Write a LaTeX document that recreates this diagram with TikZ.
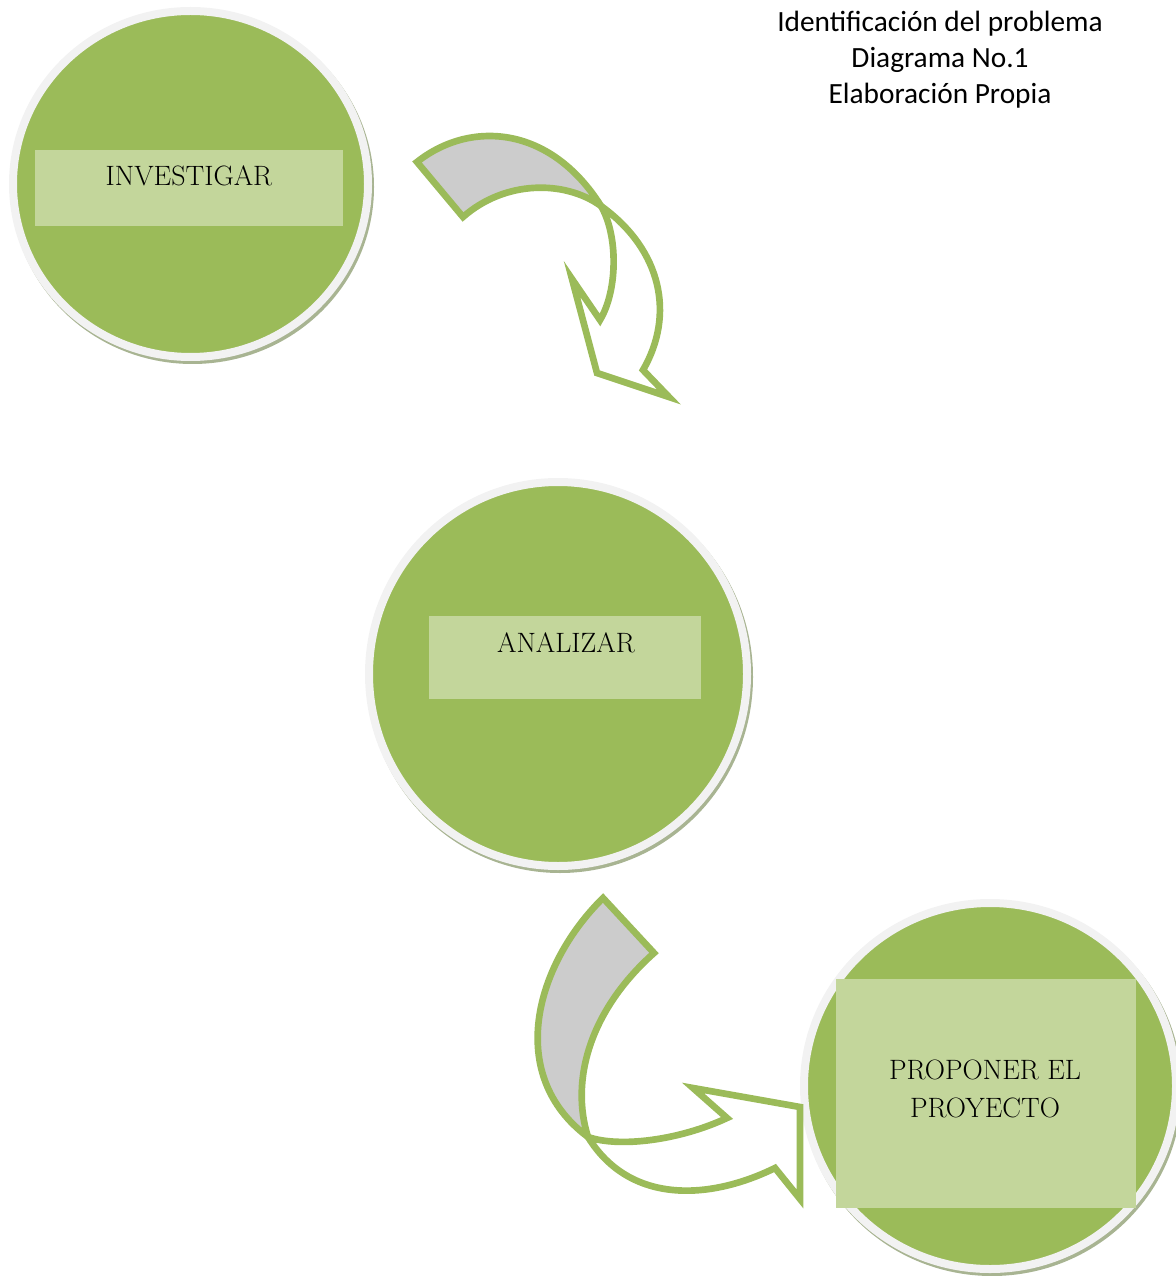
\documentclass[tikz,border=0pt]{standalone}
\usepackage{fontspec}
\usetikzlibrary{shapes.geometric}
\newfontfamily\calibrifont{Carlito}
\definecolor{leafgreen}{RGB}{155,187,89}
\definecolor{palegreen}{RGB}{195,214,155}
\definecolor{ringgray}{RGB}{242,242,242}
\definecolor{shadegreen}{RGB}{168,180,146}
\definecolor{bandgray}{RGB}{204,204,204}
\tikzset{
  disc/.style={ellipse, fill=leafgreen, draw=ringgray, line width=6pt, inner sep=0pt},
  discshade/.style={ellipse, fill=shadegreen, inner sep=0pt},
  panel/.style={rectangle, fill=palegreen, inner sep=0pt},
  steplabel/.style={font=\fontsize{21}{28.5}\selectfont, align=center, inner sep=0pt},
  ribbon/.style={draw=leafgreen, line width=5pt, line join=miter},
}
\begin{document}
\begin{tikzpicture}[x=0.75pt,y=0.75pt,yscale=-1,xscale=1]
\useasboundingbox (0,0) rectangle (1175,1276);

%Shape: Circle [investigar]
\node[discshade, minimum width=272.25pt, minimum height=265.5pt] (shade1) at (192.5,187) {};
\node[disc, minimum width=266.25pt, minimum height=259.5pt] (invest) at (190.5,184) {};
\node[panel, minimum width=231pt, minimum height=57pt] (investbox) at (189,188) {};
% Text Node
\node[steplabel] (investtext) at (189,176) {INVESTIGAR};

%Shape: Circle [analizar]
\node[discshade, minimum width=289.5pt, minimum height=294pt] (shade2) at (560,677) {};
\node[disc, minimum width=283.5pt, minimum height=288pt] (analiz) at (558,674) {};
\node[panel, minimum width=204pt, minimum height=62.25pt] (analizbox) at (565,657.5) {};
% Text Node
\node[steplabel] (analiztext) at (566,643) {ANALIZAR};

%Shape: Circle [proponer]
\node[discshade, minimum width=285pt, minimum height=280.5pt] (shade3) at (992,1089) {};
\node[disc, minimum width=279pt, minimum height=274.5pt] (propon) at (990,1086) {};
\node[panel, minimum width=225pt, minimum height=171.75pt] (proponbox) at (986,1093.5) {};
% Text Node
\node[steplabel] (propontext) at (985,1089) {PROPONER EL\\PROYECTO};

%Shape: Curved Arrow [upper]
\draw[ribbon, fill=bandgray] (417,162) .. controls (470,120) and (550,125) .. (601,206)
  .. controls (565,180) and (505,180) .. (463,217) -- cycle;
\draw[ribbon, fill=white] (601,206) .. controls (618,235) and (618,290) .. (600,320)
  -- (572,279) -- (597,373) -- (669,397) -- (643,370)
  .. controls (675,315) and (662,250) .. (601,206) -- cycle;

%Shape: Curved Arrow [lower]
\draw[ribbon, fill=bandgray] (603,898) .. controls (535,965) and (505,1075) .. (588,1137)
  .. controls (570,1080) and (590,1010) .. (654,953) -- cycle;
\draw[ribbon, fill=white] (588,1137) .. controls (620,1148) and (680,1140) .. (727,1118)
  -- (693,1088) -- (800,1107) -- (800,1199) -- (775,1168)
  .. controls (710,1200) and (630,1205) .. (588,1137) -- cycle;

% Text Node
\node[font=\calibrifont\fontsize{22}{27}\selectfont, align=center, inner sep=0pt] (title) at (940,60) {Identificación del problema\\Diagrama No.1\\Elaboración Propia};

\end{tikzpicture}
\end{document}
